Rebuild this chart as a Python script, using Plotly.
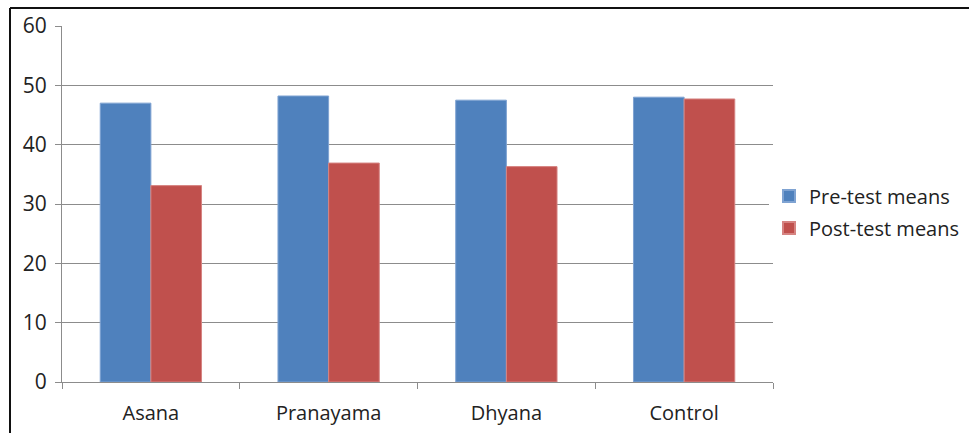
import plotly.graph_objects as go

categories = ["Asana", "Pranayama", "Dhyana", "Control"]
pre_test_means = [47.0, 48.2, 47.5, 48.0]
post_test_means = [33.1, 36.9, 36.3, 47.7]
y_ticks = [0, 10, 20, 30, 40, 50, 60]

FONT = "Open Sans, Liberation Sans, sans-serif"
GRID = "#8c8c8c"

fig = go.Figure()
fig.add_trace(go.Bar(
    name="Pre-test means", x=categories, y=pre_test_means, legendgroup="pre",
    marker=dict(color="#4F81BD", line=dict(color="#7FA3D2", width=1)),
))
fig.add_trace(go.Bar(
    name="Post-test means", x=categories, y=post_test_means, legendgroup="post",
    marker=dict(color="#C0504D", line=dict(color="#D68482", width=1)),
))

# outer frame (only the top and left edges fall inside the view)
plot_l, plot_r, plot_t, plot_b = 62, 773, 26, 382
W, H = 969, 433
def px_x(px):
    return (px - plot_l) / (plot_r - plot_l)
def px_y(py):
    return (plot_b - py) / (plot_b - plot_t)

fig.add_shape(type="line", xref="paper", yref="paper",
              x0=px_x(10), x1=px_x(W + 5), y0=px_y(8), y1=px_y(8),
              line=dict(color="#111111", width=2))
fig.add_shape(type="line", xref="paper", yref="paper",
              x0=px_x(10), x1=px_x(10), y0=px_y(8), y1=px_y(H + 5),
              line=dict(color="#111111", width=2))

fig.update_layout(
    width=W, height=H,
    margin=dict(l=plot_l, r=W - plot_r, t=plot_t, b=H - plot_b, autoexpand=False),
    paper_bgcolor="white", plot_bgcolor="white",
    barmode="group", bargap=0.43, bargroupgap=0,
    font=dict(family=FONT, size=20, color="#222222"),
    legend=dict(x=px_x(769), y=px_y(212), xanchor="left", yanchor="middle",
                font=dict(size=20, color="#222222"),
                itemsizing="constant", tracegroupgap=3),
    showlegend=True,
)
fig.update_xaxes(
    showgrid=False, showline=True, linecolor=GRID, linewidth=1, automargin=False,
    ticks="outside", tickson="boundaries", ticklen=6, tickcolor=GRID,
    tickfont=dict(size=20, color="#222222"), ticklabelstandoff=13,
)
fig.update_yaxes(
    range=[0, 60], tickvals=y_ticks, showgrid=True, gridcolor=GRID, gridwidth=1,
    showline=True, linecolor=GRID, linewidth=1, automargin=False,
    ticks="outside", ticklen=6, tickcolor=GRID, zeroline=False,
    tickfont=dict(size=21, color="#222222"), ticklabelstandoff=4,
)

fig.write_html("out.html")
